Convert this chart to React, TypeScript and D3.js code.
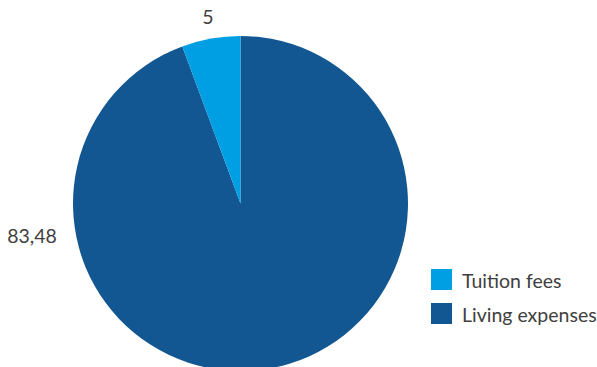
import React from "react";
import * as d3 from "d3";

const categories = ["Tuition fees", "Living expenses"];
const values = [5, 83.48];
const labels = ["5", "83,48"];
const colors = ["#009fe3", "#125792"];

export default function App() {
  const width = 597, height = 367;
  const cx = 240.5, cy = 203.5, r = 167.5;
  const order = [1, 0];
  const pie = d3.pie<number>().sort(null).value((i) => values[i]);
  const arcs = pie(order);
  const arc = d3.arc<d3.PieArcDatum<number>>().innerRadius(0).outerRadius(r);
  const font = "Lato, 'Open Sans', sans-serif";
  return (
    <svg width={width} height={height} style={{ position: "absolute", left: 0, top: 0 }}>
      <g transform={`translate(${cx},${cy})`}>
        {arcs.map((a) => (
          <path key={a.data} d={arc(a) || ""} fill={colors[a.data]} />
        ))}
      </g>
      <text x={208} y={24} fontFamily={font} fontSize={19.5} fill="#404040" textAnchor="middle">{labels[0]}</text>
      <text x={32} y={243} fontFamily={font} fontSize={19.5} fill="#404040" textAnchor="middle">{labels[1]}</text>
      {categories.map((c, i) => (
        <g key={c} transform={`translate(431,${269 + i * 34})`}>
          <rect width={21} height={21} fill={colors[i]} />
          <text x={31} y={19} fontFamily={font} fontSize={19.5} fill="#404040">{c}</text>
        </g>
      ))}
    </svg>
  );
}
